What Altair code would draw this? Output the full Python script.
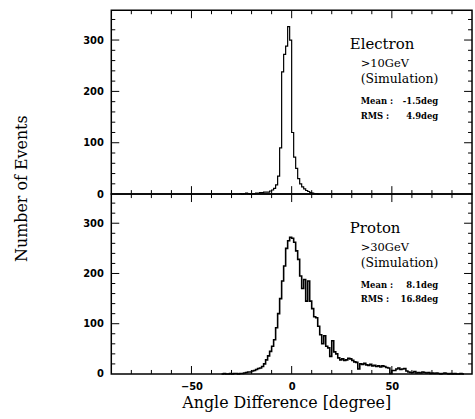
import altair as alt
import pandas as pd

# ---- data ----
electron_start = -26
electron_counts = [1, 0, 1, 2, 1, 0, 1, 1, 2, 2, 3, 3, 4, 4, 4, 6, 8, 11, 18, 35,
                   90, 238, 272, 288, 326, 300, 120, 72, 50, 30, 20, 14, 10, 7, 5, 3,
                   2, 1, 1, 0]
proton_start = -35
proton_counts = [0, 1, 0, 0, 1, 0, 1, 1, 0, 1, 1, 2, 3, 4, 4, 6, 7, 9, 11, 12,
                 15, 20, 28, 36, 45, 55, 68, 92, 120, 150, 185, 215, 250, 265, 272,
                 270, 262, 245, 228, 195, 170, 188, 145, 185, 145, 130, 114, 112, 95,
                 78, 60, 76, 55, 52, 35, 66, 44, 40, 32, 28, 30, 27, 28, 31, 30, 27,
                 24, 23, 10, 20, 19, 21, 18, 17, 19, 16, 17, 15, 16, 14, 16, 15, 13,
                 12, 1, 7, 7, 10, 12, 9, 10, 11, 6, 4, 3, 3, 5, 2, 3, 2, 4, 3, 2, 3,
                 1, 2, 1, 2, 1, 0, 1, 2, 1, 0, 1, 0, 1, 0, 0, 1, 0]

x_major = [-50, 0, 50]
x_minor = [-80, -70, -60, -40, -30, -20, -10, 10, 20, 30, 40, 60, 70, 80]
y_major = [100, 200, 300]
y_minor = [20, 40, 60, 80, 120, 140, 160, 180, 220, 240, 260, 280, 320, 340]
y_labels = [0, 100, 200, 300]

electron_text = ["Electron", ">10GeV", "(Simulation)", "Mean :", "-1.5deg", "RMS  :", "4.9deg"]
proton_text = ["Proton", ">30GeV", "(Simulation)", "Mean :", "8.1deg", "RMS  :", "16.8deg"]

x_title = "Angle Difference [degree]"
y_title = "Number of Events"

W = 363
XS = alt.Scale(domain=[-90, 90], nice=False, zero=False)
YS = alt.Scale(domain=[0, 358], nice=False, zero=False)


def hist_df(start, counts):
    edges = [start + i for i in range(len(counts))] + [start + len(counts)]
    vals = list(counts) + [counts[-1]]
    return pd.DataFrame({"edge": edges, "count": vals})


def one(text):
    return pd.DataFrame({"t": [text]})


def panel(df, H, texts, bottom, sw):
    if bottom:
        xaxis = alt.Axis(values=x_major, labelPadding=8, ticks=False, domain=False,
                         grid=False, title=x_title, titleFont="DejaVu Serif",
                         titleFontSize=16, titleFontWeight="normal",
                         titleX=176, titleAlign="center",
                         titleY=34, titleBaseline="alphabetic",
                         labelFont="DejaVu Sans", labelFontWeight="bold",
                         labelFontSize=10, labelColor="black", titleColor="black")
        yaxis = alt.Axis(values=y_labels, labelPadding=8, ticks=False, domain=False,
                         grid=False, title=None, labelFont="DejaVu Sans",
                         labelFontWeight="bold", labelFontSize=10, labelColor="black")
    else:
        xaxis = alt.Axis(labels=False, ticks=False, domain=False, grid=False, title=None)
        yaxis = alt.Axis(values=y_labels, labelPadding=8, ticks=False, domain=False,
                         grid=False, title=y_title, titleFont="DejaVu Serif",
                         titleFontSize=16, titleFontWeight="normal", titleColor="black",
                         titleX=-90, titleY=179, titleAngle=270, titleAlign="center",
                         titleBaseline="middle", labelFont="DejaVu Sans",
                         labelFontWeight="bold", labelFontSize=10, labelColor="black")

    line = alt.Chart(df).mark_line(interpolate="step-after", color="black",
                                   strokeWidth=sw).encode(
        x=alt.X("edge:Q", scale=XS, axis=xaxis),
        y=alt.Y("count:Q", scale=YS, axis=yaxis),
    )
    layers = [line]

    def xticks(vals, length):
        d = pd.DataFrame({"v": vals})
        r = alt.Chart(d).mark_rule(color="black", strokeWidth=1)
        return [
            r.encode(x=alt.X("v:Q", scale=XS, axis=xaxis), y=alt.value(H), y2=alt.value(H - length)),
            r.encode(x=alt.X("v:Q", scale=XS, axis=xaxis), y=alt.value(0), y2=alt.value(length)),
        ]

    def yticks(vals, length):
        d = pd.DataFrame({"v": vals})
        r = alt.Chart(d).mark_rule(color="black", strokeWidth=1)
        return [
            r.encode(y=alt.Y("v:Q", scale=YS, axis=yaxis), x=alt.value(0), x2=alt.value(length)),
            r.encode(y=alt.Y("v:Q", scale=YS, axis=yaxis), x=alt.value(W), x2=alt.value(W - length)),
        ]

    layers += xticks(x_major, 8) + xticks(x_minor, 4) + yticks(y_major, 8) + yticks(y_minor, 4)

    specs = [
        (texts[0], 240, 34, "left", "DejaVu Serif", 15, "normal"),
        (texts[1], 251, 54, "left", "DejaVu Serif", 11.5, "normal"),
        (texts[2], 251, 69, "left", "DejaVu Serif", 12.5, "normal"),
        (texts[3], 251, 91, "left", "DejaVu Serif", 8.5, "bold"),
        (texts[4], 329, 91, "right", "DejaVu Serif", 8.5, "bold"),
        (texts[5], 251, 106, "left", "DejaVu Serif", 8.5, "bold"),
        (texts[6], 329, 106, "right", "DejaVu Serif", 8.5, "bold"),
    ]
    for t, px, py, al, fnt, fs, fw in specs:
        layers.append(
            alt.Chart(one(t)).mark_text(align=al, baseline="middle", font=fnt, fontSize=fs,
                                        fontWeight=fw, color="black").encode(
                x=alt.value(px), y=alt.value(py), text="t:N")
        )
    return alt.layer(*layers).properties(width=W, height=H)


top = panel(hist_df(electron_start, electron_counts), 185, electron_text, False, 1.2)
bot = panel(hist_df(proton_start, proton_counts), 181, proton_text, True, 1.6)

chart = alt.vconcat(top, bot, spacing=0, bounds="flush").properties(
    padding={"left": 13, "top": 7, "right": 1, "bottom": 5},
    background="white",
).configure_view(stroke="black", strokeWidth=1.5)

chart.save("out.html", embed_options={"renderer": "svg", "actions": False})
